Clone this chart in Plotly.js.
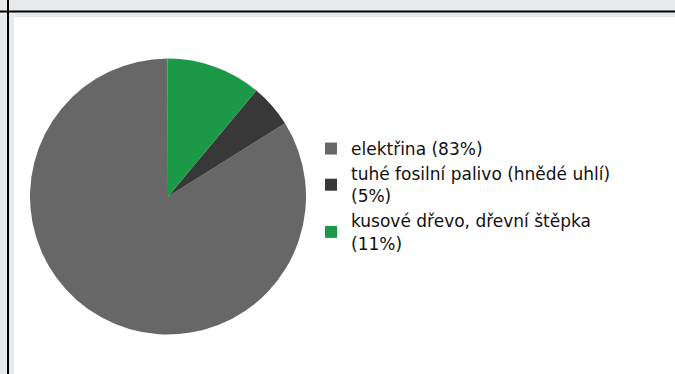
<!DOCTYPE html>
<html>
<head>
<meta charset="utf-8">
<script src="https://cdn.plot.ly/plotly-3.0.1.min.js"></script>
<style>
html,body{margin:0;padding:0;background:#e8e9eb;}
#chart{width:675px;height:374px;}
</style>
</head>
<body>
<div id="chart"></div>
<script>
const labels = [
  "elektřina (83%)",
  "tuhé fosilní palivo (hnědé uhlí)<br>(5%)",
  "kusové dřevo, dřevní štěpka<br>(11%)"
];
const values = [83, 5, 11];
const colors = ["#676767", "#383838", "#1c9947"];

const W = 675, H = 374;
const data = [{
  type: "pie",
  labels: labels,
  values: values,
  sort: false,
  direction: "counterclockwise",
  rotation: 58,
  textinfo: "none",
  hoverinfo: "label",
  marker: {colors: colors, line: {width: 0}},
  domain: {x: [30 / W, 306 / W], y: [39 / H, 316 / H]}
}];

const layout = {
  width: W, height: H,
  margin: {l: 0, r: 0, t: 0, b: 0},
  paper_bgcolor: "#e8e9eb",
  showlegend: true,
  legend: {
    x: 311 / W, y: (H - 196) / H, xanchor: "left", yanchor: "middle",
    font: {family: "DejaVu Sans", size: 17, color: "#111"},
    bgcolor: "rgba(0,0,0,0)",
    tracegroupgap: 0
  },
  shapes: [
    {type: "rect", xref: "paper", yref: "paper", x0: 14 / W, x1: 1, y0: 0, y1: (H - 17) / H, fillcolor: "#ffffff", line: {width: 0}, layer: "below"},
    {type: "line", xref: "paper", yref: "paper", x0: 0, x1: 1, y0: (H - 11.5) / H, y1: (H - 11.5) / H, line: {color: "#000", width: 2}},
    {type: "line", xref: "paper", yref: "paper", x0: 8 / W, x1: 8 / W, y0: 0, y1: 1, line: {color: "#000", width: 2}}
  ]
};

Plotly.newPlot("chart", data, layout, {displayModeBar: false, staticPlot: true});
</script>
</body>
</html>
